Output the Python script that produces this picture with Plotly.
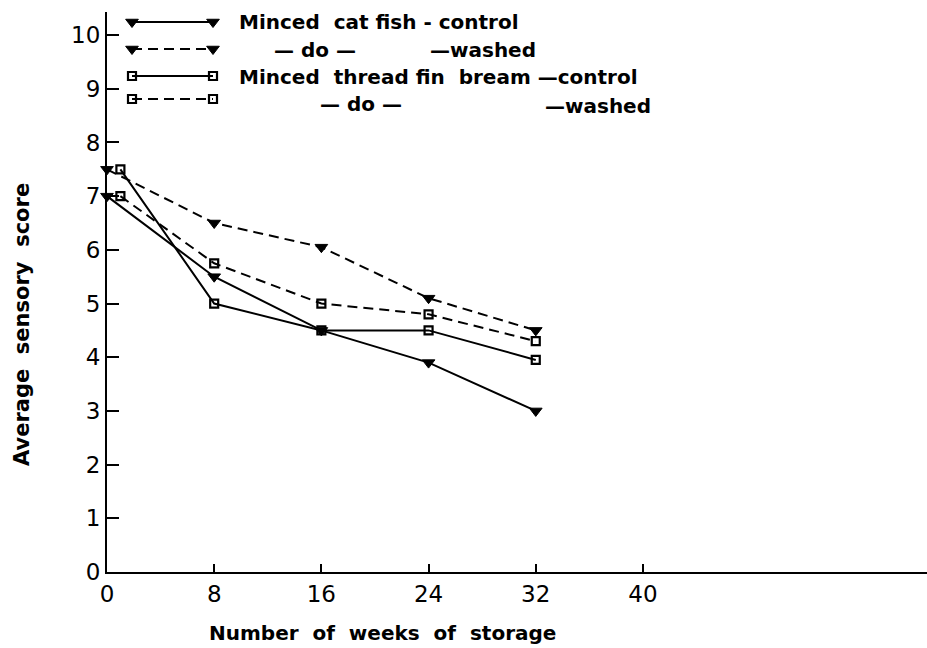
import plotly.graph_objects as go

# Storage weeks at which samples were scored
weeks_catfish = [0, 8, 16, 24, 32]
weeks_bream = [1, 8, 16, 24, 32]

# Average sensory scores
catfish_control = [7.0, 5.5, 4.5, 3.9, 3.0]
catfish_washed = [7.5, 6.5, 6.05, 5.1, 4.5]
bream_control = [7.5, 5.0, 4.5, 4.5, 3.95]
bream_washed = [7.0, 5.75, 5.0, 4.8, 4.3]

x_ticks = [0, 8, 16, 24, 32, 40]
y_ticks = [0, 1, 2, 3, 4, 5, 6, 7, 8, 9, 10]

FONT = "DejaVu Sans"
BLACK = "black"
DASH = "10px,6px"

tri = dict(symbol="triangle-down", size=11, color=BLACK, line=dict(color=BLACK, width=1))
sq = dict(symbol="square-open", size=8, color=BLACK, line=dict(color=BLACK, width=2.2))

series = [
    (weeks_bream, bream_washed, "dash", sq),
    (weeks_bream, bream_control, "solid", sq),
    (weeks_catfish, catfish_washed, "dash", tri),
    (weeks_catfish, catfish_control, "solid", tri),
]

fig = go.Figure()
for xs, ys, dash, mk in series:
    fig.add_trace(go.Scatter(
        x=xs, y=ys, mode="lines+markers",
        line=dict(color=BLACK, width=2, dash=DASH if dash == "dash" else "solid"),
        marker=mk, cliponaxis=False, showlegend=False, hoverinfo="skip",
    ))

# Hand-drawn style key in the upper left (pixel-space overlay axes)
L, R, T, B = 107, 927, 12, 572
key_rows = [22, 49, 76, 99]
key_x0, key_x1 = 132, 213
key_styles = [("solid", tri), ("dash", tri), ("solid", sq), ("dash", sq)]
for yr, (dash, mk) in zip(key_rows, key_styles):
    fig.add_trace(go.Scatter(
        x=[key_x0, key_x1], y=[yr, yr], mode="lines+markers",
        xaxis="x2", yaxis="y2",
        line=dict(color=BLACK, width=2, dash=DASH if dash == "dash" else "solid"),
        marker=mk, cliponaxis=False, showlegend=False, hoverinfo="skip",
    ))

key_texts = [
    ("Minced  cat fish - control", 237, 22),
    ("— do —", 272, 50),
    ("—washed", 428, 50),
    ("Minced  thread fin  bream —control", 237, 77),
    ("— do —", 318, 104),
    ("—washed", 543, 106),
]
annotations = []
for txt, xp, yp in key_texts:
    annotations.append(dict(
        text="<b>%s</b>" % txt, x=xp, y=yp, xref="x2", yref="y2",
        xanchor="left", yanchor="middle", showarrow=False,
        font=dict(family=FONT, size=20, color=BLACK),
    ))

# Axis titles
annotations.append(dict(
    text="<b>Number  of  weeks  of  storage</b>", x=(382 - L) / (R - L), y=(B - 633) / (B - T),
    xref="paper", yref="paper", xanchor="center", yanchor="middle", showarrow=False,
    font=dict(family=FONT, size=20, color=BLACK),
))
annotations.append(dict(
    text="<b>Average  sensory  score</b>", x=(22 - L) / (R - L), y=(B - 325) / (B - T),
    xref="paper", yref="paper", xanchor="center", yanchor="middle", showarrow=False,
    textangle=-90, font=dict(family=FONT, size=21, color=BLACK),
))

axis_common = dict(
    showline=True, linecolor=BLACK, linewidth=2, showgrid=False, zeroline=False,
    ticks="inside", tickcolor=BLACK, tickwidth=2,
    tickfont=dict(family=FONT, size=23, color=BLACK),
)

fig.update_layout(
    width=927, height=648,
    margin=dict(l=L, r=927 - R, t=T, b=648 - B, pad=0),
    plot_bgcolor="white", paper_bgcolor="white",
    xaxis=dict(range=[0, 61.2], tickvals=x_ticks, ticklen=8, **axis_common),
    yaxis=dict(range=[0, 10.43], tickvals=y_ticks, ticklen=12, **axis_common),
    xaxis2=dict(range=[L, R], overlaying="x", anchor="y2", visible=False),
    yaxis2=dict(range=[B, T], overlaying="y", anchor="x2", visible=False),
    annotations=annotations,
)

fig.write_html("out.html")
